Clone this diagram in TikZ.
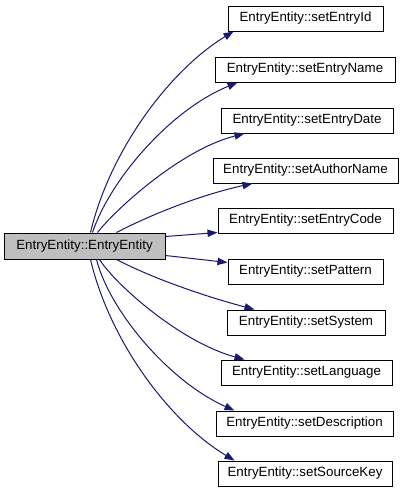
\documentclass[tikz,border=0pt]{standalone}
\usepackage{fontspec}
\setmainfont{Liberation Sans}
\usetikzlibrary{arrows.meta,calc}
\definecolor{edgeblue}{HTML}{191970}
\definecolor{maingray}{HTML}{BFBFBF}
\begin{document}
\begin{tikzpicture}[x=0.75pt,y=-0.75pt,
  fn/.style={draw=black,line width=0.75pt,fill=white,inner sep=0pt,minimum height=18.75pt,
    font=\fontsize{10}{12}\selectfont},
  mainfn/.style={fn,fill=maingray,minimum height=19.5pt},
  call/.style={draw=edgeblue,line width=0.75pt,-{Triangle[length=7.5pt,width=5.5pt]}}]
\useasboundingbox (0,0) rectangle (404,493);
\fill[white] (0,0) rectangle (404,493);
\node[mainfn,minimum width=120.75pt] (main) at (84.5,246) {EntryEntity::EntryEntity};
\node[fn,minimum width=116.25pt] (n1) at (305.5,18.5) {EntryEntity::setEntryId};
\node[fn,minimum width=135pt] (n2) at (305,69.5) {EntryEntity::setEntryName};
\node[fn,minimum width=129pt] (n3) at (307,120.5) {EntryEntity::setEntryDate};
\node[fn,minimum width=138.75pt] (n4) at (305.5,170.5) {EntryEntity::setAuthorName};
\node[fn,minimum width=131.25pt] (n5) at (305.5,220.5) {EntryEntity::setEntryCode};
\node[fn,minimum width=116.25pt] (n6) at (305.5,271.5) {EntryEntity::setPattern};
\node[fn,minimum width=118.5pt] (n7) at (306,322.5) {EntryEntity::setSystem};
\node[fn,minimum width=128.25pt] (n8) at (306.5,372.5) {EntryEntity::setLanguage};
\node[fn,minimum width=132.75pt] (n9) at (304.5,423.5) {EntryEntity::setDescription};
\node[fn,minimum width=130.5pt] (n10) at (305,473.5) {EntryEntity::setSourceKey};
% upper calls
\draw[call] ($(main.north west)+(87,0)$) .. controls (110,150) and (170,70) .. ($(n1.south west)+(6,0)$);
\draw[call] ($(main.north west)+(89,0)$) .. controls (110,180) and (170,110) .. ($(n2.south west)+(23,0)$);
\draw[call] ($(main.north west)+(94,0)$) .. controls (115,210) and (180,150) .. ($(n3.south west)+(24,0)$);
\draw[call] ($(main.north west)+(113,0)$) .. controls (150,215) and (200,195) .. ($(n4.south west)+(40,0)$);
% side calls
\draw[call] ($(main.north east)+(0,4)$) -- ($(n5.south west)+(0,-1)$);
\draw[call] ($(main.south east)+(0,-4)$) -- ($(n6.north west)+(0,4)$);
% lower calls
\draw[call] ($(main.south west)+(113,0)$) .. controls (150,277) and (200,295) .. ($(n7.north west)+(28,0)$);
\draw[call] ($(main.south west)+(96,0)$) .. controls (115,284) and (180,342) .. ($(n8.north west)+(24,0)$);
\draw[call] ($(main.south west)+(93,0)$) .. controls (110,312) and (170,382) .. ($(n9.north west)+(19,0)$);
\draw[call] ($(main.south west)+(87,0)$) .. controls (110,342) and (170,422) .. ($(n10.north west)+(17,0)$);
\end{tikzpicture}
\end{document}
